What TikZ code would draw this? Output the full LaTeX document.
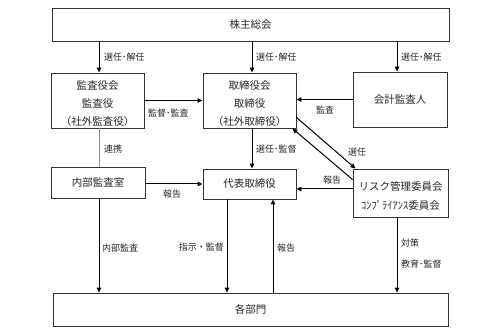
\documentclass[tikz,border=0pt]{standalone}
\usepackage{fontspec}
\setmainfont{Noto Sans CJK JP}
\usetikzlibrary{arrows.meta,calc}
\begin{document}
\begin{tikzpicture}[x=1pt,y=-1pt,
 box/.style={draw=black!80, line width=0.9pt, inner sep=0pt},
 arr/.style={line width=1pt, -{Triangle[length=5pt,width=4.5pt]}},
 lbl/.style={font=\fontsize{9}{10}\selectfont, text=black!85, inner sep=0pt},
 btxt/.style={font=\fontsize{10.5}{18}\selectfont, align=center, text=black!85, inner sep=0pt}]
\useasboundingbox (0,0) rectangle (504,336);
% boxes
\node[box, minimum width=397pt, minimum height=33pt, btxt] (sh) at (250.5,24.5) {株主総会};
\node[box, minimum width=93pt, minimum height=55pt] (kan) at (97.5,100.5) {};
\node[btxt] (kantxt) at (97.5,104) {監査役会\\監査役\\（社外監査役）};
\node[box, minimum width=93pt, minimum height=55pt] (tor) at (249.5,100.5) {};
\node[btxt] (tortxt) at (249.5,104) {取締役会\\取締役\\（社外取締役）};
\node[box, minimum width=94pt, minimum height=55pt, btxt] (kai) at (400,99.5) {会計監査人};
\node[box, minimum width=94pt, minimum height=31pt, btxt] (nai) at (98,182.5) {内部監査室};
\node[box, minimum width=93pt, minimum height=30pt, btxt] (dai) at (249.5,184) {代表取締役};
\node[box, minimum width=95pt, minimum height=48pt] (risk) at (400.5,193) {};
\node[btxt, font=\fontsize{10.5}{19}\selectfont] (risktxt) at (400.5,196) {リスク管理委員会\\ｺﾝﾌﾟﾗｲｱﾝｽ委員会};
\node[box, minimum width=395pt, minimum height=33pt, btxt] (kaku) at (250.5,309.5) {各部門};
% connectors
\draw[arr] ([xshift=1.5pt]kan.north |- sh.south) -- ([xshift=1.5pt]kan.north);
\draw[arr] ([xshift=2.5pt]tor.north |- sh.south) -- ([xshift=2.5pt]tor.north);
\draw[arr] ([xshift=-3pt]kai.north |- sh.south) -- ([xshift=-3pt]kai.north);
\draw[arr] (kan.east) -- (tor.west);
\draw[arr] (kai.west) -- (kai.west -| tor.east);
\draw[arr] ([xshift=2.5pt]tor.south) -- ([xshift=2.5pt]tor.south |- dai.north);
\draw[black!45, line width=0.7pt] ([xshift=1.5pt]kan.south) -- ([xshift=1pt]nai.north);
\draw[arr] ([yshift=-1.5pt]nai.east) -- ([yshift=-1.5pt]nai.east -| dai.west);
\draw[arr] ([yshift=4pt]risk.west) -- ([yshift=4pt]risk.west -| dai.east);
\draw[arr] ([yshift=11pt]tor.south east) -- ([xshift=3pt]risk.north west);
\draw[arr] ([yshift=-11pt]risk.north west) -- ([xshift=-4pt]tor.south east);
\draw[arr] ([xshift=1pt]nai.south) -- ([xshift=1pt]nai.south |- kaku.north);
\draw[arr] ([xshift=-22.5pt]dai.south) -- ([xshift=-22.5pt]dai.south |- kaku.north);
\draw[arr] ([xshift=23.5pt]dai.south |- kaku.north) -- ([xshift=23.5pt]dai.south);
\draw[arr] ([xshift=-3.5pt]risk.south) -- ([xshift=-3.5pt]risk.south |- kaku.north);
% labels
\node[lbl, anchor=west] (l1) at (104,57) {選任･解任};
\node[lbl, anchor=west] (l2) at (256,57) {選任･解任};
\node[lbl, anchor=west] (l3) at (401,57) {選任･解任};
\node[lbl, anchor=west] (l4) at (148,113) {監督･監査};
\node[lbl] (l5) at (325,110) {監査};
\node[lbl] (l6) at (113,149) {連携};
\node[lbl, anchor=west] (l7) at (256,149) {選任･監督};
\node[lbl] (l8) at (357,152) {選任};
\node[lbl] (l9) at (172,194) {報告};
\node[lbl] (l10) at (332,180) {報告};
\node[lbl, anchor=west] (l11) at (102,248) {内部監査};
\node[lbl, anchor=east] (l12) at (224,247) {指示・監督};
\node[lbl, anchor=west] (l13) at (277,248) {報告};
\node[lbl, anchor=west] (l14) at (401,243) {対策};
\node[lbl, anchor=west] (l15) at (401,264) {教育･監督};
\end{tikzpicture}
\end{document}
